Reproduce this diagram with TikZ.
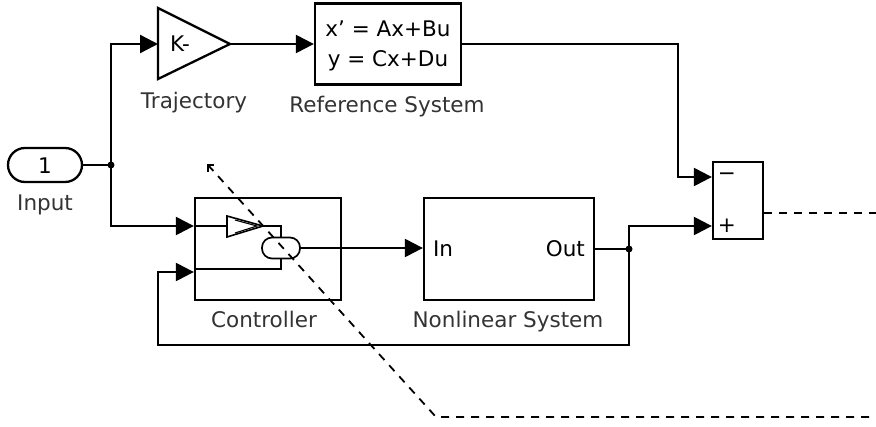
\documentclass[tikz,border=0pt]{standalone}
\usepackage{fontspec}
\setmainfont{DejaVu Sans}
\usetikzlibrary{arrows.meta}
\begin{document}
\begin{tikzpicture}[x=1pt,y=-1pt,line width=2.3pt,
  font=\fontsize{21.5}{30}\selectfont,
  blk/.style={draw,inner sep=0pt},
  lbl/.style={anchor=base,text=black!80},
  sig/.style={-{Triangle[length=18pt,width=18pt]}},
  scope/.style={dash pattern=on 8pt off 7pt,line width=1.8pt}]
\useasboundingbox (0,0) rectangle (876,426);
% blocks
\node[blk,rounded corners=17,minimum width=74,minimum height=34] (inp) at (45,165) {};
\node[anchor=base] (one) at (45,173) {1};
\node[lbl] (inplbl) at (45,210) {Input};
\draw (158,8) -- (230,44) -- (158,79) -- cycle;
\coordinate (trajin) at (158,44);
\coordinate (trajout) at (230,44);
\node[anchor=base] (k) at (180,51) {K-};
\node[lbl] (trajlbl) at (194,108) {Trajectory};
\node[blk,minimum width=146,minimum height=81] (ref) at (388,44) {};
\node[anchor=base] (eq1) at (388,36) {x' = Ax+Bu};
\node[anchor=base] (eq2) at (388,66) {y = Cx+Du};
\node[lbl] (reflbl) at (387,112) {Reference System};
\node[blk,minimum width=50,minimum height=77] (sum) at (738,200.5) {};
\node (minus) at (727,177) {\textminus};
\node (plus) at (727,226) {+};
\node[blk,minimum width=146,minimum height=102] (ctrl) at (268,249) {};
\node[lbl] (ctrllbl) at (264,327) {Controller};
\node[blk,minimum width=170,minimum height=102] (plant) at (509,249) {};
\node[anchor=base west,inner sep=0pt] (inlbl) at (432,256) {In};
\node[anchor=base east,inner sep=0pt] (outlbl) at (586,256) {Out};
\node[lbl] (plantlbl) at (508,327) {Nonlinear System};
% inside the controller
\draw[line width=1.6pt] (227,216) -- (263,226) -- (227,237) -- cycle;
\draw[line width=1.1pt] (235,220) -- (257,226) -- (235,233);
\node[draw,line width=1.7pt,rounded corners=10,minimum width=38,minimum height=21,inner sep=0pt] (csum) at (281,248) {};
\draw (ctrl.west |- 0,226) -- (227,226);
\draw (263,226) -| (csum.north);
\draw (ctrl.west |- 0,269) -| (csum.south);
% ports and junctions
\coordinate (jin) at (111,165);
\coordinate (jout) at (629,249);
\fill (jin) circle (3.5);
\fill (jout) circle (3.5);
% signals
\draw (inp.east) -- (jin);
\draw[sig] (jin) |- (trajin);
\draw[sig] (jin) |- (ctrl.west |- 0,226);
\draw[sig] (trajout) -- (ref.west);
\draw[sig] (ref.east) -| (678,177) -- (sum.west |- 0,177);
\draw[sig] (csum.east) -- (plant.west |- csum.east);
\draw (plant.east |- jout) -- (jout);
\draw[sig] (jout) |- (sum.west |- 0,226);
\draw[sig] (jout) |- (158,345) |- (ctrl.west |- 0,272);
% dashed lines
\coordinate (sc1) at (208,165);
\coordinate (sc2) at (436,417);
\coordinate (sc3) at (876,417);
\coordinate (sc4) at (876,213);
\draw[scope] (sum.east |- sc4) -- (sc4);
\draw[scope] (sc1) -- (sc2) -- (sc3);
\draw[line width=1.6pt] (214,165) -- (sc1) -- (208,172);
\end{tikzpicture}
\end{document}
